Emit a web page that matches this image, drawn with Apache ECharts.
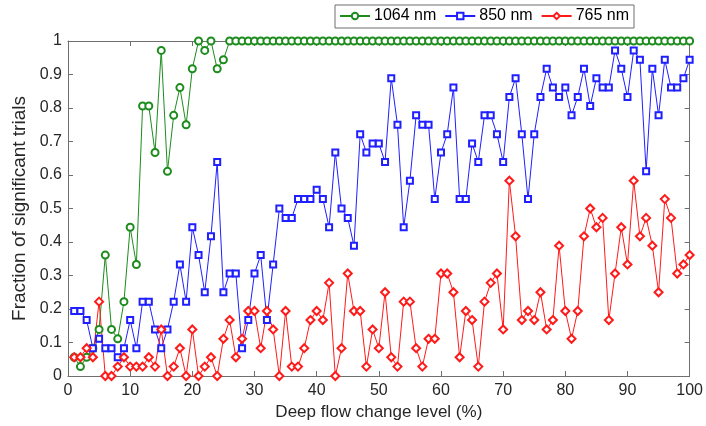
<!DOCTYPE html>
<html>
<head>
<meta charset="utf-8">
<script src="https://cdn.jsdelivr.net/npm/echarts@6/dist/echarts.min.js"></script>
<style>
  html, body { margin: 0; padding: 0; background: #fff; }
  #chart { width: 706px; height: 426px; }
</style>
</head>
<body>
<div id="chart"></div>
<script>
// Deep flow change level (%) for each trial set
const levels = [
  1, 2, 3, 4, 5, 6, 7, 8, 9, 10, 11, 12, 13, 14, 15, 16, 17, 18, 19, 20,
  21, 22, 23, 24, 25, 26, 27, 28, 29, 30, 31, 32, 33, 34, 35, 36, 37, 38, 39, 40,
  41, 42, 43, 44, 45, 46, 47, 48, 49, 50, 51, 52, 53, 54, 55, 56, 57, 58, 59, 60,
  61, 62, 63, 64, 65, 66, 67, 68, 69, 70, 71, 72, 73, 74, 75, 76, 77, 78, 79, 80,
  81, 82, 83, 84, 85, 86, 87, 88, 89, 90, 91, 92, 93, 94, 95, 96, 97, 98, 99, 100
];

// Fraction of significant trials, 1064 nm
const frac1064 = [
  0.056, 0.028, 0.056, 0.083, 0.139, 0.361, 0.139, 0.111, 0.222, 0.444,
  0.333, 0.806, 0.806, 0.667, 0.972, 0.611, 0.778, 0.861, 0.750, 0.917,
  1, 0.972, 1, 0.917, 0.944, 1, 1, 1, 1, 1,
  1, 1, 1, 1, 1, 1, 1, 1, 1, 1,
  1, 1, 1, 1, 1, 1, 1, 1, 1, 1,
  1, 1, 1, 1, 1, 1, 1, 1, 1, 1,
  1, 1, 1, 1, 1, 1, 1, 1, 1, 1,
  1, 1, 1, 1, 1, 1, 1, 1, 1, 1,
  1, 1, 1, 1, 1, 1, 1, 1, 1, 1,
  1, 1, 1, 1, 1, 1, 1, 1, 1, 1
];

// Fraction of significant trials, 850 nm
const frac850 = [
  0.194, 0.194, 0.167, 0.083, 0.111, 0.083, 0.083, 0.056, 0.083, 0.167,
  0.083, 0.222, 0.222, 0.139, 0.083, 0.139, 0.222, 0.333, 0.222, 0.444,
  0.361, 0.250, 0.417, 0.639, 0.250, 0.306, 0.306, 0.083, 0.167, 0.306,
  0.361, 0.167, 0.333, 0.500, 0.472, 0.472, 0.528, 0.528, 0.528, 0.556,
  0.528, 0.444, 0.667, 0.500, 0.472, 0.389, 0.722, 0.667, 0.694, 0.694,
  0.639, 0.889, 0.750, 0.444, 0.583, 0.778, 0.750, 0.750, 0.528, 0.667,
  0.722, 0.861, 0.528, 0.528, 0.694, 0.639, 0.778, 0.778, 0.722, 0.639,
  0.833, 0.889, 0.722, 0.528, 0.722, 0.833, 0.917, 0.861, 0.833, 0.861,
  0.778, 0.833, 0.917, 0.806, 0.889, 0.861, 0.861, 0.972, 0.917, 0.833,
  0.972, 0.944, 0.611, 0.917, 0.778, 0.944, 0.861, 0.861, 0.889, 0.944
];

// Fraction of significant trials, 765 nm
const frac765 = [
  0.056, 0.056, 0.083, 0.056, 0.222, 0.000, 0.000, 0.028, 0.056, 0.028,
  0.028, 0.028, 0.056, 0.028, 0.139, 0.000, 0.028, 0.083, 0.000, 0.139,
  0.000, 0.028, 0.056, 0.000, 0.111, 0.167, 0.056, 0.111, 0.194, 0.194,
  0.083, 0.194, 0.139, 0.000, 0.194, 0.028, 0.028, 0.083, 0.167, 0.194,
  0.167, 0.278, 0.000, 0.083, 0.306, 0.194, 0.194, 0.028, 0.139, 0.083,
  0.250, 0.056, 0.028, 0.222, 0.222, 0.083, 0.028, 0.111, 0.111, 0.306,
  0.306, 0.250, 0.056, 0.194, 0.167, 0.028, 0.222, 0.278, 0.306, 0.139,
  0.583, 0.417, 0.167, 0.194, 0.167, 0.250, 0.139, 0.167, 0.389, 0.194,
  0.111, 0.194, 0.417, 0.500, 0.444, 0.472, 0.167, 0.306, 0.444, 0.333,
  0.583, 0.417, 0.472, 0.389, 0.250, 0.528, 0.472, 0.306, 0.333, 0.361
];

const seriesNames = ['1064 nm', '850 nm', '765 nm'];
const xTicks = { min: 0, max: 100, step: 10 };
const yTicks = { min: 0, max: 1, step: 0.1 };

const FONT = '"Liberation Sans", Arial, Helvetica, sans-serif';
const AXIS_COLOR = '#6f6f6f';
const TEXT_COLOR = '#262626';

function pairs(values) {
  return levels.map((lv, i) => [lv, values[i]]);
}

function lineSeries(name, values, color, symbol, size) {
  return {
    name: name,
    type: 'line',
    xAxisIndex: 0,
    yAxisIndex: 0,
    data: pairs(values),
    symbol: symbol,
    symbolSize: size,
    showAllSymbol: true,
    clip: false,
    lineStyle: { color: color, width: 1 },
    itemStyle: { color: color, borderColor: color, borderWidth: 1 },
    emphasis: { disabled: true }
  };
}

const boxAxisBase = {
  axisLine: { show: true, onZero: false, lineStyle: { color: AXIS_COLOR, width: 1 } },
  axisTick: { show: true, inside: true, length: 5, lineStyle: { color: AXIS_COLOR } },
  splitLine: { show: false }
};

const chart = echarts.init(document.getElementById('chart'), null, { renderer: 'canvas' });

chart.setOption({
  animation: false,
  backgroundColor: '#ffffff',
  textStyle: { fontFamily: FONT },
  grid: { left: 68, right: 13, top: 41, bottom: 49, containLabel: false },
  legend: {
    data: seriesNames,
    left: 335,
    top: 5,
    orient: 'horizontal',
    itemWidth: 30,
    itemHeight: 8,
    itemGap: 8,
    padding: [3, 5, 4, 4],
    borderColor: '#6f6f6f',
    borderWidth: 1,
    backgroundColor: '#ffffff',
    selectedMode: false,
    textStyle: { fontSize: 16, color: '#000', fontFamily: FONT, padding: [0, 0, 0, -1] }
  },
  xAxis: [
    Object.assign({}, boxAxisBase, {
      type: 'value',
      position: 'bottom',
      min: xTicks.min, max: xTicks.max, interval: xTicks.step,
      name: 'Deep flow change level (%)',
      nameLocation: 'middle',
      nameGap: 28,
      nameTextStyle: { fontSize: 17, color: TEXT_COLOR, fontFamily: FONT },
      axisLabel: { fontSize: 16, color: TEXT_COLOR, margin: 7, fontFamily: FONT }
    }),
    Object.assign({}, boxAxisBase, {
      type: 'value',
      position: 'top',
      min: xTicks.min, max: xTicks.max, interval: xTicks.step,
      axisLabel: { show: false }
    })
  ],
  yAxis: [
    Object.assign({}, boxAxisBase, {
      type: 'value',
      position: 'left',
      min: yTicks.min, max: yTicks.max, interval: yTicks.step,
      name: 'Fraction of significant trials',
      nameLocation: 'middle',
      nameGap: 37,
      nameRotate: 90,
      nameTextStyle: { fontSize: 19, color: TEXT_COLOR, fontFamily: FONT },
      axisLabel: {
        fontSize: 16, color: TEXT_COLOR, margin: 6, fontFamily: FONT,
        formatter: v => (v === 0 || v === 1) ? String(v) : v.toFixed(1)
      }
    }),
    Object.assign({}, boxAxisBase, {
      type: 'value',
      position: 'right',
      min: yTicks.min, max: yTicks.max, interval: yTicks.step,
      axisLabel: { show: false }
    })
  ],
  series: [
    lineSeries(seriesNames[0], frac1064, '#1d8c1d', 'emptyCircle', 7),
    lineSeries(seriesNames[1], frac850, '#1f1fff', 'emptyRect', 6),
    lineSeries(seriesNames[2], frac765, '#ff1a1a', 'emptyDiamond', 8)
  ]
});
</script>
</body>
</html>
